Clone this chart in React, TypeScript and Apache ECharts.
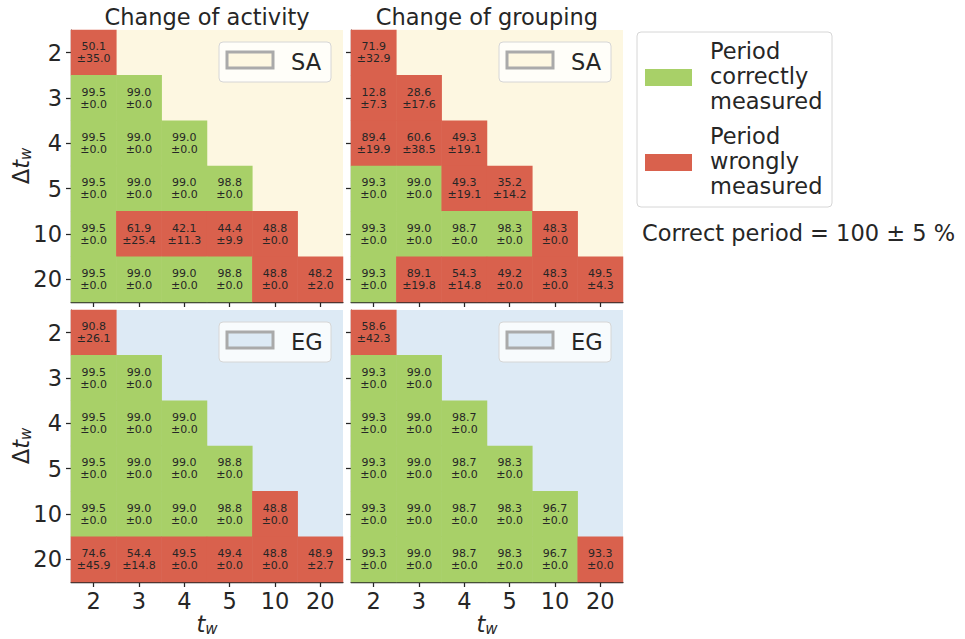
import React, { useEffect, useRef } from "react";
import * as echarts from "echarts";

// Categories
const twLabels = ["2", "3", "4", "5", "10", "20"];
const dtwLabels = ["2", "3", "4", "5", "10", "20"];

// Change of activity, SA
const actSAMean = [[50.1], [99.5, 99.0], [99.5, 99.0, 99.0], [99.5, 99.0, 99.0, 98.8], [99.5, 61.9, 42.1, 44.4, 48.8], [99.5, 99.0, 99.0, 98.8, 48.8, 48.2]];
const actSAStd = [[35.0], [0, 0], [0, 0, 0], [0, 0, 0, 0], [0, 25.4, 11.3, 9.9, 0], [0, 0, 0, 0, 0, 2.0]];
// Change of grouping, SA
const grpSAMean = [[71.9], [12.8, 28.6], [89.4, 60.6, 49.3], [99.3, 99.0, 49.3, 35.2], [99.3, 99.0, 98.7, 98.3, 48.3], [99.3, 89.1, 54.3, 49.2, 48.3, 49.5]];
const grpSAStd = [[32.9], [7.3, 17.6], [19.9, 38.5, 19.1], [0, 0, 19.1, 14.2], [0, 0, 0, 0, 0], [0, 19.8, 14.8, 0, 0, 4.3]];
// Change of activity, EG
const actEGMean = [[90.8], [99.5, 99.0], [99.5, 99.0, 99.0], [99.5, 99.0, 99.0, 98.8], [99.5, 99.0, 99.0, 98.8, 48.8], [74.6, 54.4, 49.5, 49.4, 48.8, 48.9]];
const actEGStd = [[26.1], [0, 0], [0, 0, 0], [0, 0, 0, 0], [0, 0, 0, 0, 0], [45.9, 14.8, 0, 0, 0, 2.7]];
// Change of grouping, EG
const grpEGMean = [[58.6], [99.3, 99.0], [99.3, 99.0, 98.7], [99.3, 99.0, 98.7, 98.3], [99.3, 99.0, 98.7, 98.3, 96.7], [99.3, 99.0, 98.7, 98.3, 96.7, 93.3]];
const grpEGStd = [[42.3], [0, 0], [0, 0, 0], [0, 0, 0, 0], [0, 0, 0, 0, 0], [0, 0, 0, 0, 0, 0]];

const correctThreshold = 95; // 100 ± 5 %

const GREEN = "#a8d068";
const RED = "#d9614d";
const CREAM = "#fdf7e1";
const BLUE = "#ddeaf5";
const INK = "#262626";
const FONT = "DejaVu Sans";
const FS = 22.5;

function buildData(means: number[][], stds: number[][]) {
  const out: number[][] = [];
  means.forEach((row, r) => {
    row.forEach((m, c) => {
      out.push([c, r, m, stds[r][c]]);
    });
  });
  return out;
}

export default function App() {
  const ref = useRef<HTMLDivElement>(null);

  useEffect(() => {
    if (!ref.current) return;
    const chart = echarts.init(ref.current, undefined, { renderer: "svg" });

    const panels = [
      { left: 71, top: 30, bg: CREAM, means: actSAMean, stds: actSAStd, xLab: false, yLab: true, tag: "SA" },
      { left: 351, top: 30, bg: CREAM, means: grpSAMean, stds: grpSAStd, xLab: false, yLab: false, tag: "SA" },
      { left: 71, top: 310, bg: BLUE, means: actEGMean, stds: actEGStd, xLab: true, yLab: true, tag: "EG" },
      { left: 351, top: 310, bg: BLUE, means: grpEGMean, stds: grpEGStd, xLab: true, yLab: false, tag: "EG" },
    ];
    const W = 272;
    const H = 272;

    const grid = panels.map((p) => ({
      left: p.left,
      top: p.top,
      width: W,
      height: H,
      show: true,
      backgroundColor: p.bg,
      borderWidth: 0,
    }));

    const xAxis = panels.map((p, i) => ({
      type: "category",
      gridIndex: i,
      data: twLabels,
      axisLine: { show: true, lineStyle: { color: INK, width: 1.25 } },
      axisTick: { show: true, alignWithLabel: true, length: 5, lineStyle: { color: INK, width: 1.25 } },
      axisLabel: { show: p.xLab, fontSize: FS, color: INK, fontFamily: FONT, margin: 7 },
      splitLine: { show: false },
    }));

    const yAxis = panels.map((p, i) => ({
      type: "category",
      gridIndex: i,
      data: dtwLabels,
      inverse: true,
      axisLine: { show: true, lineStyle: { color: INK, width: 1.25 } },
      axisTick: { show: true, alignWithLabel: true, length: 5, lineStyle: { color: INK, width: 1.25 } },
      axisLabel: { show: p.yLab, fontSize: FS, color: INK, fontFamily: FONT, margin: 9 },
      splitLine: { show: false },
    }));

    const series = panels.map((p, i) => ({
      type: "heatmap",
      xAxisIndex: i,
      yAxisIndex: i,
      data: buildData(p.means, p.stds),
      itemStyle: { borderWidth: 0 },
      emphasis: { disabled: true },
      label: {
        show: true,
        fontSize: 11,
        lineHeight: 12,
        color: INK,
        fontFamily: FONT,
        formatter: (v: any) => `${v.value[2].toFixed(1)}\n±${v.value[3].toFixed(1)}`,
      },
    }));

    const graphic: any[] = [];
    // panel legends
    panels.forEach((p) => {
      const bx = p.left + 148;
      const by = p.top + 12;
      graphic.push({
        type: "rect",
        shape: { x: bx, y: by, width: 112, height: 40, r: 4 },
        style: { fill: "rgba(255,255,255,0.8)", stroke: "#d6d6d6", lineWidth: 1 },
        z: 100,
      });
      graphic.push({
        type: "rect",
        shape: { x: bx + 8, y: by + 10, width: 46, height: 16 },
        style: { fill: p.bg, stroke: "#aaaaaa", lineWidth: 3 },
        z: 101,
      });
      graphic.push({
        type: "text",
        x: bx + 72,
        y: by + 20,
        style: { text: p.tag, fontSize: FS, fontFamily: FONT, fill: INK, verticalAlign: "middle", align: "left" },
        z: 101,
      });
    });

    // titles
    graphic.push({
      type: "text", x: 71 + W / 2, y: 17,
      style: { text: "Change of activity", fontSize: FS, fontFamily: FONT, fill: INK, align: "center", verticalAlign: "middle" },
    });
    graphic.push({
      type: "text", x: 351 + W / 2, y: 17,
      style: { text: "Change of grouping", fontSize: FS, fontFamily: FONT, fill: INK, align: "center", verticalAlign: "middle" },
    });

    const richAxis = {
      a: { fontSize: FS, fontFamily: FONT, fill: INK, lineHeight: 24, verticalAlign: "middle" },
      b: { fontSize: FS, fontFamily: FONT, fontStyle: "italic", fill: INK, lineHeight: 24, verticalAlign: "middle" },
      c: { fontSize: 15, fontFamily: FONT, fontStyle: "italic", fill: INK, lineHeight: 12, verticalAlign: "bottom" },
    };
    // y-axis names
    [30 + H / 2, 310 + H / 2].forEach((cy) => {
      graphic.push({
        type: "text", x: 21, y: cy, rotation: Math.PI / 2,
        style: { text: "{a|Δ}{b|t}{c|w}", rich: richAxis, align: "center", verticalAlign: "middle" },
      });
    });
    // x-axis names
    [71 + W / 2, 351 + W / 2].forEach((cx) => {
      graphic.push({
        type: "text", x: cx, y: 624,
        style: { text: "{b|t}{c|w}", rich: richAxis, align: "center", verticalAlign: "middle" },
      });
    });

    // right legend
    graphic.push({
      type: "rect",
      shape: { x: 637, y: 32, width: 195, height: 175, r: 4 },
      style: { fill: "rgba(255,255,255,0.8)", stroke: "#d6d6d6", lineWidth: 1 },
    });
    graphic.push({ type: "rect", shape: { x: 645, y: 69, width: 47, height: 17 }, style: { fill: GREEN } });
    graphic.push({ type: "rect", shape: { x: 645, y: 154, width: 47, height: 17 }, style: { fill: RED } });
    graphic.push({
      type: "text", x: 710, y: 76,
      style: { text: "Period\ncorrectly\nmeasured", fontSize: FS, lineHeight: 25, fontFamily: FONT, fill: INK, align: "left", verticalAlign: "middle" },
    });
    graphic.push({
      type: "text", x: 710, y: 161,
      style: { text: "Period\nwrongly\nmeasured", fontSize: FS, lineHeight: 25, fontFamily: FONT, fill: INK, align: "left", verticalAlign: "middle" },
    });
    graphic.push({
      type: "text", x: 642, y: 233,
      style: { text: "Correct period = 100 ± 5 %", fontSize: FS, fontFamily: FONT, fill: INK, align: "left", verticalAlign: "middle" },
    });

    chart.setOption({
      animation: false,
      backgroundColor: "#ffffff",
      grid,
      xAxis,
      yAxis,
      visualMap: {
        type: "piecewise",
        show: false,
        dimension: 2,
        seriesIndex: [0, 1, 2, 3],
        pieces: [
          { gte: correctThreshold, color: GREEN },
          { lt: correctThreshold, color: RED },
        ],
      },
      series,
      graphic,
    });

    return () => chart.dispose();
  }, []);

  return (
    <div
      ref={ref}
      style={{ position: "fixed", left: 0, top: 0, width: 965, height: 639 }}
    />
  );
}
